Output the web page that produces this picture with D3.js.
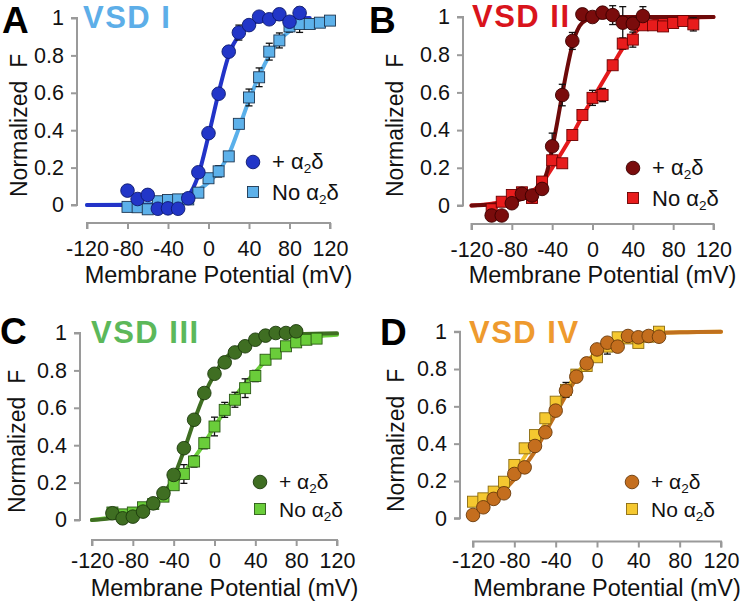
<!DOCTYPE html>
<html><head><meta charset="utf-8">
<script src="https://cdn.jsdelivr.net/npm/d3@7"></script>
<style>
html,body{margin:0;padding:0;background:#fff;}
svg{display:block;font-family:"Liberation Sans",Arial,Helvetica,sans-serif;}
</style></head>
<body><svg id="chart" width="744" height="608"></svg>
<script>
// ---------- data ----------
const xTicks = [-120, -80, -40, 0, 40, 80, 120];
const xTickLabels = ["-120", "-80", "-40", "0", "40", "80", "120"];
const yTicks = [0, 0.2, 0.4, 0.6, 0.8, 1];
const yTickLabels = ["0", "0.2", "0.4", "0.6", "0.8", "1"];
const panelLetters = ["A", "B", "C", "D"];
const panelTitles = ["VSD I", "VSD II", "VSD III", "VSD IV"];
const seriesNames = ["+ α", "No α"];

// Panel A (VSD I)
const vA_plus = [-80,-70,-60,-50,-40,-30,-20,-10,0,10,20,30,40,50,60,70,80,90];
const fA_plus = [0.077,0.032,0.054,-0.02,-0.018,-0.02,0.036,0.175,0.384,0.595,0.82,0.922,0.962,1.007,0.993,1.02,0.98,1.027];
const eA_plus = [0.01,0.01,0.01,0.01,0.02,0.02,0.01,0.01,0.02,0.02,0.02,0.04,0.02,0.02,0.02,0.03,0.02,0.03];
const vA_no = [-80,-70,-60,-50,-40,-30,-20,-10,0,10,20,30,40,50,60,70,80,90,100,110,120];
const fA_no = [-0.01,-0.012,-0.023,0.02,0.027,0.03,0.03,0.066,0.143,0.18,0.26,0.434,0.575,0.683,0.82,0.88,0.955,0.968,0.968,0.975,0.986];
const eA_no = [0.01,0.01,0.01,0.01,0.01,0.01,0.01,0.01,0.02,0.03,0.02,0.02,0.045,0.05,0.045,0.04,0.03,0.045,0.02,0.01,0.01];
const fitA_plus = [[-120,0],[-80,0],[-50,0.003],[-40,0.008],[-30,0.02],[-20,0.05],[-10,0.16],[0,0.37],[10,0.6],[20,0.8],[30,0.91],[40,0.96],[50,0.985],[60,0.995],[100,1.0]];
const fitA_no = [[-120,0],[-60,0.005],[-40,0.015],[-30,0.025],[-20,0.045],[-10,0.08],[0,0.12],[10,0.18],[20,0.27],[30,0.41],[40,0.56],[50,0.69],[60,0.8],[70,0.88],[80,0.93],[90,0.96],[100,0.975],[110,0.985],[120,0.99]];

// Panel B (VSD II)
const vB_plus = [-100,-90,-80,-70,-60,-50,-40,-30,-20,-10,0,10,20,30,40,50];
const fB_plus = [-0.053,-0.053,0.012,0.062,0.053,0.088,0.314,0.586,0.873,1.014,1.0,1.023,1.01,0.97,0.965,1.005];
const eB_plus = [0.01,0.01,0.01,0.01,0.02,0.02,0.07,0.057,0.045,0.03,0.02,0.02,0.05,0.085,0.03,0.05];
const vB_no = [-100,-90,-80,-70,-60,-50,-40,-30,-20,-10,0,10,20,30,40,50,60,70,80,90,100];
const fB_no = [-0.02,0.02,0.056,0.07,0.04,0.127,0.24,0.224,0.374,0.48,0.571,0.586,0.744,0.859,0.88,0.956,0.956,0.95,0.968,0.979,0.961];
const eB_no = [0.01,0.01,0.01,0.01,0.01,0.02,0.02,0.02,0.02,0.02,0.04,0.035,0.02,0.03,0.04,0.02,0.02,0.02,0.01,0.02,0.035];
const fitB_plus = [[-120,0.0],[-100,0.005],[-80,0.02],[-70,0.035],[-60,0.06],[-50,0.11],[-45,0.18],[-40,0.3],[-35,0.44],[-30,0.59],[-25,0.73],[-20,0.85],[-15,0.93],[-10,0.97],[0,0.995],[20,1.0],[120,1.0]];
const fitB_no = [[-120,0.0],[-100,0.01],[-80,0.03],[-70,0.05],[-60,0.075],[-50,0.12],[-40,0.2],[-30,0.285],[-20,0.375],[-10,0.475],[0,0.565],[10,0.655],[20,0.745],[30,0.835],[40,0.905],[50,0.955],[60,0.978],[80,0.993],[100,0.998],[120,1.0]];

// Panel C (VSD III)
const vC_plus = [-100,-90,-80,-70,-60,-50,-40,-30,-20,-10,0,10,20,30,40,50,60,70,80];
const fC_plus = [0.036,0.009,0.018,0.045,0.089,0.143,0.241,0.384,0.536,0.679,0.782,0.843,0.896,0.929,0.964,0.986,1.0,1.0,1.009];
const eC_plus = [0.01,0.01,0.01,0.01,0.01,0.01,0.02,0.02,0.02,0.02,0.02,0.02,0.01,0.01,0.01,0.01,0.01,0.01,0.01];
const vC_no = [-100,-90,-80,-70,-60,-50,-40,-30,-20,-10,0,10,20,30,40,50,60,70,80,90,100];
const fC_no = [0.04,0.03,0.04,0.068,0.086,0.125,0.186,0.246,0.313,0.411,0.5,0.589,0.643,0.705,0.77,0.857,0.89,0.929,0.95,0.964,0.97];
const eC_no = [0.01,0.01,0.01,0.01,0.01,0.01,0.02,0.05,0.03,0.03,0.05,0.04,0.04,0.05,0.03,0.02,0.02,0.02,0.02,0.01,0.01];
const fitC_plus = [[-120,0.0],[-100,0.01],[-80,0.03],[-70,0.05],[-60,0.085],[-50,0.14],[-40,0.23],[-30,0.37],[-20,0.53],[-10,0.67],[0,0.78],[10,0.86],[20,0.91],[30,0.945],[40,0.965],[60,0.985],[80,0.993],[120,0.998]];
const fitC_no = [[-120,0.0],[-100,0.015],[-80,0.04],[-60,0.085],[-50,0.13],[-40,0.19],[-30,0.25],[-20,0.33],[-10,0.41],[0,0.5],[10,0.58],[20,0.66],[30,0.73],[40,0.79],[50,0.85],[60,0.89],[70,0.93],[80,0.955],[100,0.98],[120,0.99]];

// Panel D (VSD IV)
const vD_plus = [-120,-110,-100,-90,-80,-70,-60,-50,-40,-30,-20,-10,0,10,20,30,40,50,60];
const fD_plus = [0.018,0.059,0.104,0.134,0.2375,0.273,0.3875,0.461,0.577,0.684,0.759,0.83,0.905,0.941,0.92,0.977,0.97,0.977,0.973];
const eD_plus = [0.01,0.01,0.01,0.01,0.01,0.01,0.01,0.02,0.02,0.02,0.02,0.02,0.02,0.02,0.02,0.02,0.02,0.01,0.01];
const vD_no = [-120,-110,-100,-90,-80,-70,-60,-50,-40,-30,-20,-10,0,10,20,30,40,50,60];
const fD_no = [0.089,0.107,0.143,0.196,0.286,0.375,0.446,0.536,0.625,0.688,0.77,0.816,0.863,0.92,0.97,0.964,0.94,0.973,1.0];
const eD_no = [0.01,0.01,0.01,0.01,0.01,0.01,0.01,0.01,0.02,0.04,0.02,0.02,0.02,0.04,0.02,0.02,0.02,0.01,0.01];
const fitD_plus = [[-120,0.03],[-110,0.06],[-100,0.1],[-90,0.15],[-80,0.21],[-70,0.28],[-60,0.36],[-50,0.46],[-40,0.56],[-30,0.66],[-20,0.75],[-10,0.83],[0,0.89],[10,0.93],[20,0.96],[30,0.975],[40,0.985],[60,0.993],[80,0.997],[120,1.0]];
const fitD_no = [[-120,0.08],[-100,0.14],[-80,0.25],[-70,0.33],[-60,0.42],[-50,0.51],[-40,0.6],[-30,0.69],[-20,0.77],[-10,0.84],[0,0.89],[10,0.93],[20,0.96],[40,0.985],[60,0.994],[120,1.0]];

// ---------- layout & styles ----------
const panels = [
  {ax:77, yTop:18, yBot:205, xAxisY:223, xL:87, xR:330, xLblY:256, titleY:283, yLblX:27, yLblY:197,
   letterX:2, letterY:33, vsdX:83, vsdY:28, legX:253, legY1:162, legY2:192, legFs:22,
   titleColor:"#5daee8",
   plus:{v:vA_plus,f:fA_plus,e:eA_plus,fit:fitA_plus,fill:"#2236c8",stroke:"#0d1a6e",line:"#2233c8"},
   no:{v:vA_no,f:fA_no,e:eA_no,fit:fitA_no,fill:"#5db1ea",stroke:"#1d3550",line:"#5ab0ea"}},
  {ax:463, yTop:17, yBot:205.5, xAxisY:224, xL:471.5, xR:713.5, xLblY:257, titleY:283, yLblX:403, yLblY:197,
   letterX:369, letterY:33, vsdX:472, vsdY:27, legX:633, legY1:168, legY2:198, legFs:22,
   titleColor:"#d9141c",
   plus:{v:vB_plus,f:fB_plus,e:eB_plus,fit:fitB_plus,fill:"#7a0c0c",stroke:"#3a0000",line:"#6e0a0a"},
   no:{v:vB_no,f:fB_no,e:eB_no,fit:fitB_no,fill:"#e81c1c",stroke:"#6a0000",line:"#e41a1c"}},
  {ax:80, yTop:333, yBot:520, xAxisY:540, xL:92, xR:337, xLblY:568, titleY:596, yLblX:25, yLblY:513,
   letterX:0, letterY:344, vsdX:91, vsdY:343, legX:260, legY1:482, legY2:509, legFs:21,
   titleColor:"#5cb85a",
   plus:{v:vC_plus,f:fC_plus,e:eC_plus,fit:fitC_plus,fill:"#3f6e22",stroke:"#1c3a0c",line:"#3f6e22"},
   no:{v:vC_no,f:fC_no,e:eC_no,fit:fitC_no,fill:"#6acd3a",stroke:"#2a5a14",line:"#6acd3a"}},
  {ax:460, yTop:331.7, yBot:518.3, xAxisY:541.5, xL:473, xR:721, xLblY:568, titleY:596, yLblX:404, yLblY:512,
   letterX:380, letterY:345, vsdX:469, vsdY:343, legX:632, legY1:482, legY2:509, legFs:21,
   titleColor:"#ee9a2e",
   plus:{v:vD_plus,f:fD_plus,e:eD_plus,fit:fitD_plus,fill:"#c46e1e",stroke:"#6a3a0a",line:"#c0701e"},
   no:{v:vD_no,f:fD_no,e:eD_no,fit:fitD_no,fill:"#f5c830",stroke:"#8a6a10",line:"#f2c230"}}
];

const svg = d3.select("#chart");
const axisColor = "#9a9a9a";

panels.forEach((p, i) => {
  const x = d3.scaleLinear().domain([-120, 120]).range([p.xL, p.xR]);
  const y = d3.scaleLinear().domain([0, 1]).range([p.yBot, p.yTop]);
  const g = svg.append("g");

  // y axis
  const yAx = g.append("g").attr("transform", `translate(${p.ax},0)`)
    .call(d3.axisLeft(y).tickValues(yTicks).tickFormat((d, k) => yTickLabels[k]).tickSize(6).tickPadding(7));
  // x axis
  const xAx = g.append("g").attr("transform", `translate(0,${p.xAxisY})`)
    .call(d3.axisBottom(x).tickValues(xTicks).tickFormat((d, k) => xTickLabels[k]).tickSize(6).tickPadding(8));
  [yAx, xAx].forEach(a => {
    a.select(".domain").attr("stroke", axisColor).attr("stroke-width", 2);
    a.selectAll(".tick line").attr("stroke", axisColor).attr("stroke-width", 2);
    a.selectAll(".tick text").attr("fill", "#111").style("font-size", "21.5px")
      .style("font-family", '"Liberation Sans", Arial, sans-serif');
  });
  yAx.select(".domain").attr("d", `M-6,${p.yTop}H0V${p.yBot}H-6`);
  xAx.select(".domain").attr("d", `M${p.xL},6V0H${p.xR}V6`);
  xAx.selectAll(".tick text").attr("y", null).attr("dy", null)
    .attr("transform", `translate(0,${p.xLblY - p.xAxisY})`);

  // axis titles
  g.append("text").attr("x", (p.xL + p.xR) / 2 + 10).attr("y", p.titleY)
    .attr("text-anchor", "middle").style("font-size", "23.5px").attr("fill", "#111")
    .text("Membrane Potential (mV)");
  const yl = g.append("text").attr("transform", `translate(${p.yLblX},${p.yLblY}) rotate(-90)`)
    .attr("text-anchor", "start").style("font-size", "23px").attr("fill", "#111");
  yl.append("tspan").text("Normalized");
  yl.append("tspan").attr("dx", 13).text("F");

  // fit lines (light first, then dark)
  const line = d3.line().x(d => x(d[0])).y(d => y(d[1])).curve(d3.curveMonotoneX);
  [p.no, p.plus].forEach(s => {
    g.append("path").attr("d", line(s.fit)).attr("fill", "none")
      .attr("stroke", s.line).attr("stroke-width", 4).attr("stroke-linecap", "round");
  });

  // error bars
  [p.no, p.plus].forEach(s => {
    s.v.forEach((v, k) => {
      const cx = x(v), y1 = y(s.f[k] + s.e[k]), y2 = y(s.f[k] - s.e[k]);
      g.append("line").attr("x1", cx).attr("x2", cx).attr("y1", y1).attr("y2", y2)
        .attr("stroke", "#111").attr("stroke-width", 1.3);
      [y1, y2].forEach(yy => g.append("line").attr("x1", cx - 3.5).attr("x2", cx + 3.5)
        .attr("y1", yy).attr("y2", yy).attr("stroke", "#111").attr("stroke-width", 1.3));
    });
  });

  // markers: squares then circles
  g.append("g").selectAll("rect").data(p.no.v.map((v, k) => [v, p.no.f[k]])).join("rect")
    .attr("x", d => x(d[0]) - 5.5).attr("y", d => y(d[1]) - 5.5).attr("width", 11).attr("height", 11)
    .attr("fill", p.no.fill).attr("stroke", p.no.stroke).attr("stroke-width", 0.9);
  g.append("g").selectAll("circle").data(p.plus.v.map((v, k) => [v, p.plus.f[k]])).join("circle")
    .attr("cx", d => x(d[0])).attr("cy", d => y(d[1])).attr("r", 6.8)
    .attr("fill", p.plus.fill).attr("stroke", p.plus.stroke).attr("stroke-width", 0.9);

  // legend
  g.append("circle").attr("cx", p.legX).attr("cy", p.legY1).attr("r", 6.8)
    .attr("fill", p.plus.fill).attr("stroke", p.plus.stroke).attr("stroke-width", 0.9);
  g.append("rect").attr("x", p.legX - 5.5).attr("y", p.legY2 - 5.5).attr("width", 11).attr("height", 11)
    .attr("fill", p.no.fill).attr("stroke", p.no.stroke).attr("stroke-width", 0.9);
  [[p.legY1 + 7, seriesNames[0]], [p.legY2 + 8, seriesNames[1]]].forEach(([by, nm]) => {
    const t = g.append("text").attr("x", p.legX + 19).attr("y", by)
      .style("font-size", p.legFs + "px").attr("fill", "#111");
    t.append("tspan").text(nm);
    t.append("tspan").attr("dy", 4).style("font-size", "13.5px").text("2");
    t.append("tspan").attr("dy", -4).text("δ");
  });

  // panel letter and title
  g.append("text").attr("x", p.letterX).attr("y", p.letterY).style("font-size", "37px")
    .style("font-weight", "bold").attr("fill", "#000").text(panelLetters[i]);
  g.append("text").attr("x", p.vsdX).attr("y", p.vsdY).style("font-size", "31px")
    .style("font-weight", "bold").style("letter-spacing", "1.5px").attr("fill", p.titleColor).text(panelTitles[i]);
});
</script></body></html>
